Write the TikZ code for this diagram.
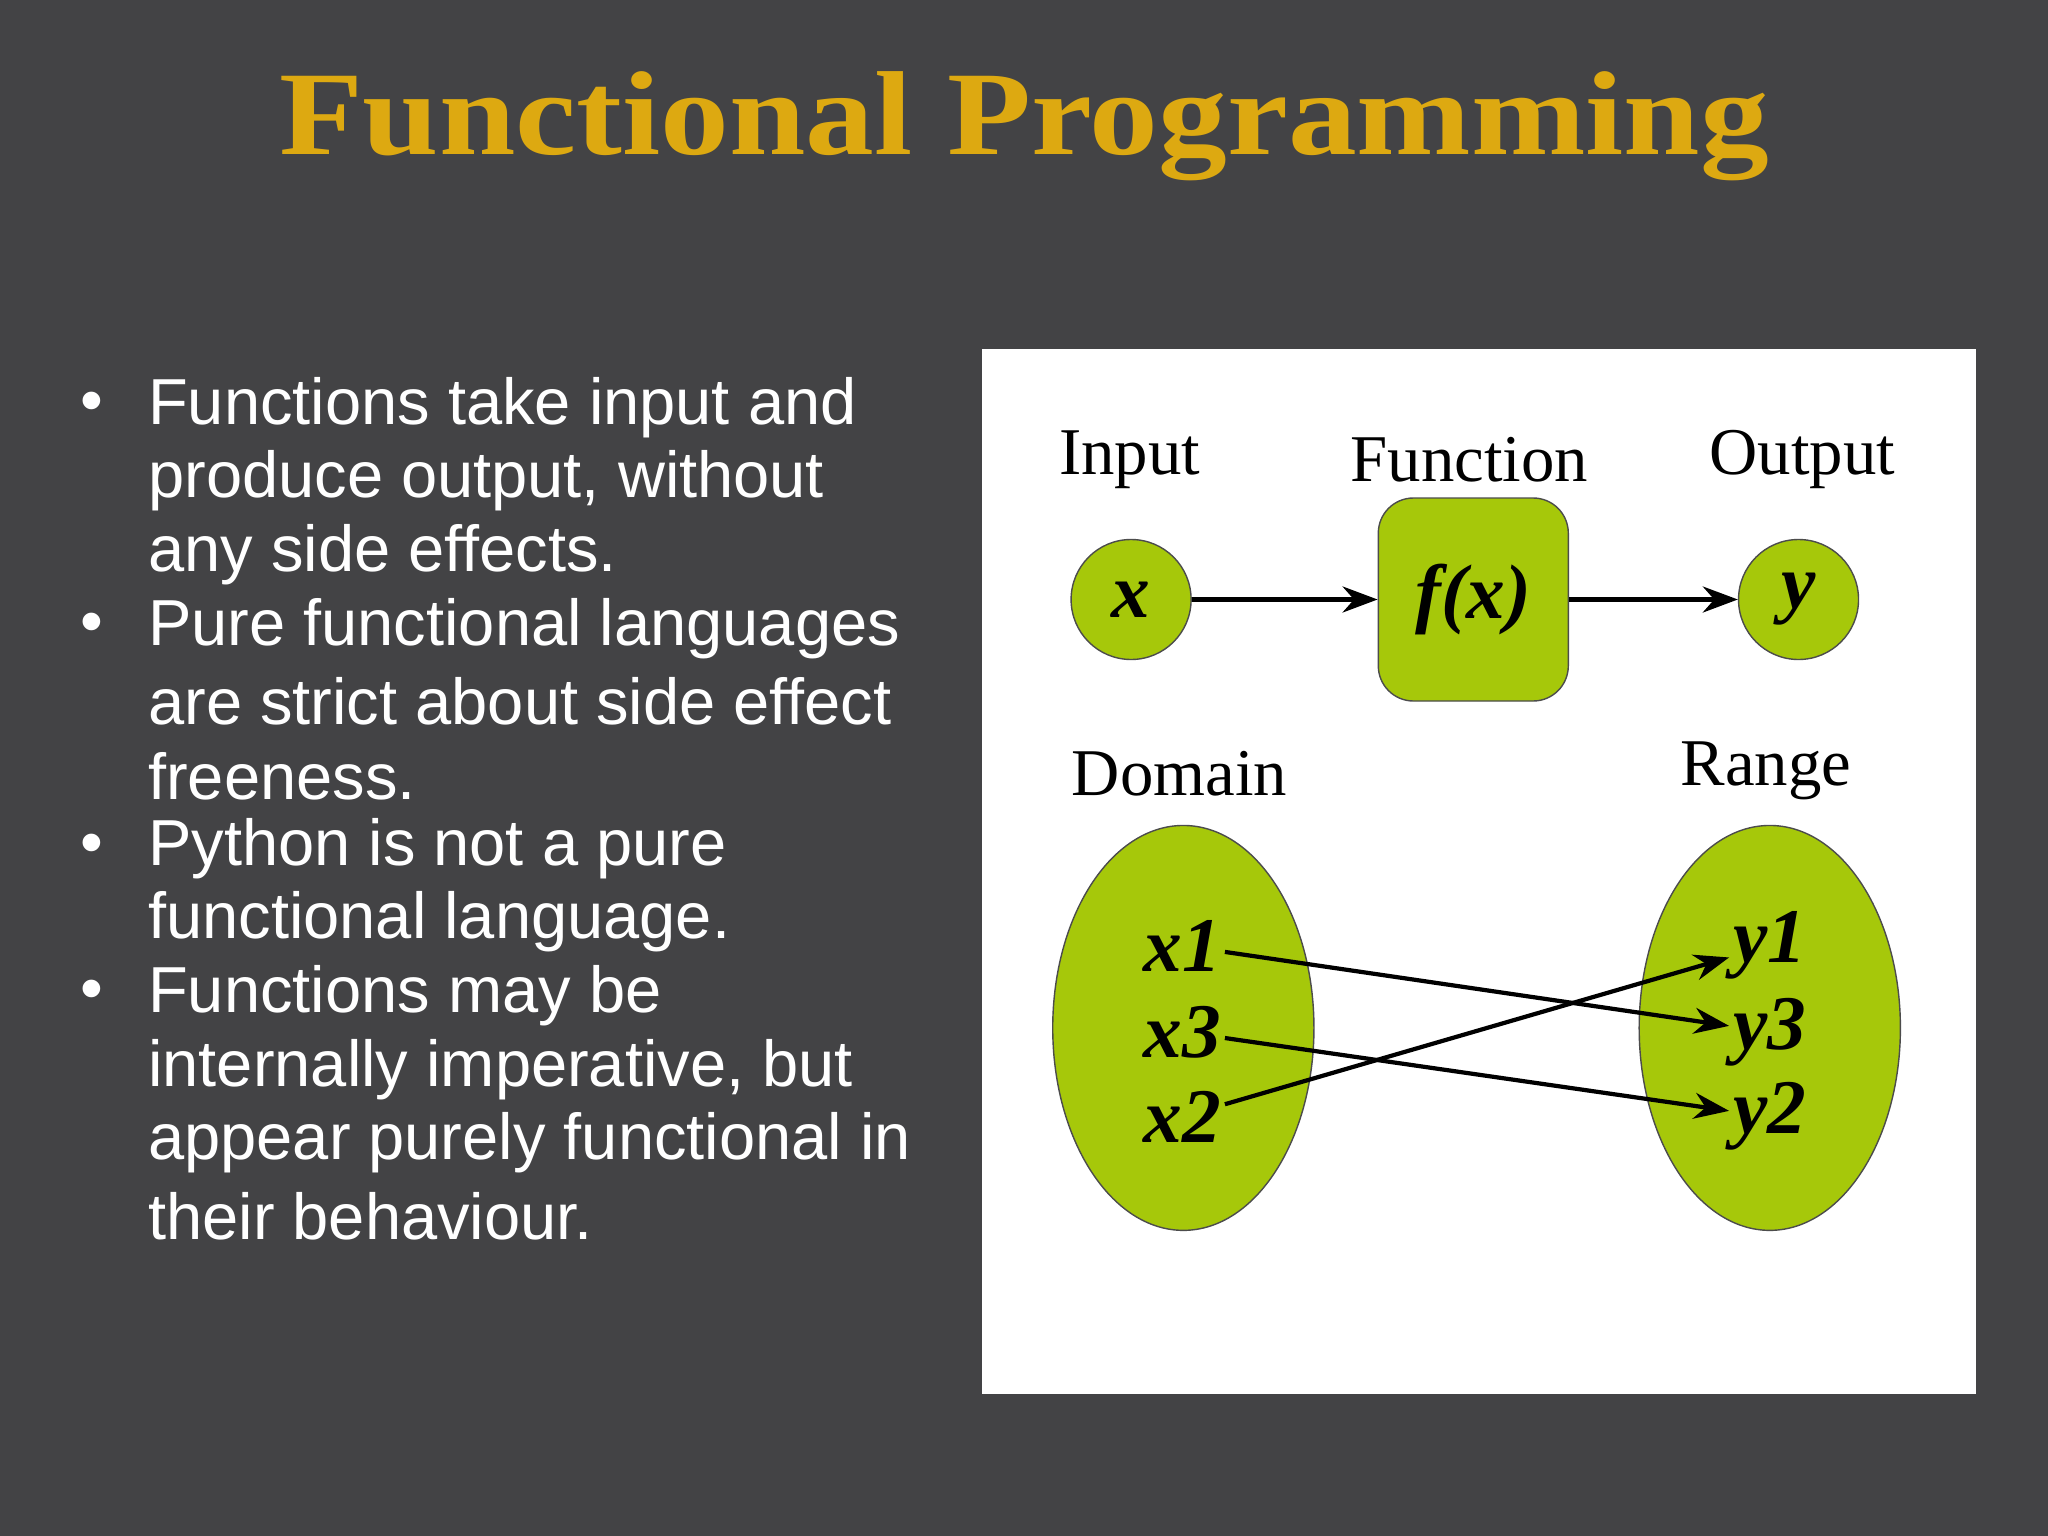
\documentclass[tikz,border=0pt]{standalone}
\usepackage{fontspec}
\setmainfont{Liberation Serif}
\newfontfamily\bulletfont{Liberation Sans}
\usetikzlibrary{arrows.meta}
\definecolor{slidebg}{HTML}{434345}
\definecolor{titlegold}{HTML}{DDA911}
\definecolor{lime}{HTML}{A6C80A}
\begin{document}
\begin{tikzpicture}[x=0.013061cm,y=-0.013061cm,
    bullet/.style={anchor=west, text=white, font=\bulletfont\fontsize{18.5}{21}\selectfont},
    caption/.style={font=\fontsize{19}{22}\selectfont},
    blob/.style={circle, draw=black!70, fill=lime, minimum size=1.2cm, inner sep=0pt},
    elem/.style={font=\bfseries\itshape\fontsize{22}{24}\selectfont, inner sep=1pt},
    link/.style={-{Stealth[length=3.5mm,width=2.6mm]}, line width=1.2pt}]
  % Background
  \fill[slidebg] (0,0) rectangle (1568,1176);
  \useasboundingbox (0,0) rectangle (1568,1176);
  \node[text=titlegold, font=\bfseries\fontsize{34}{38}\selectfont, xscale=1.15] (title) at (784,97) {Functional Programming};

  % Bullets
  \foreach \y/\t in {312/Functions take input and, 368/{produce output, without}, 425/any side effects.,
      481/Pure functional languages, 537/are strict about side effect, 594/freeness.,
      650/Python is not a pure, 706/functional language.,
      762/Functions may be, 819/{internally imperative, but}, 875/appear purely functional in, 931/their behaviour.}
    \node[bullet] at (104,\y) {\t};
  \foreach \y in {312,481,650,762}
    \node[bullet] at (52,\y) {\textbullet};

  % Panel
  \fill[white] (752,267) rectangle (1513,1067);
  \node[caption] (input) at (865,352) {Input};
  \node[caption] (function) at (1125,352) {Function};
  \node[caption] (output) at (1380,352) {Output};
  \node[blob, elem] (x) at (866,459) {x};
  \node[draw=black!70, fill=lime, rounded corners=10pt, minimum width=1.9cm, minimum height=2.03cm, elem] (f) at (1128,459) {f(x)};
  \node[blob, elem] (y) at (1377,459) {y};
  \draw[link] (x) -- (f);
  \draw[link] (f) -- (y);

  \node[caption] (domain) at (903,592) {Domain};
  \node[caption] (range) at (1352,590) {Range};
  \fill[lime, draw=black!70] (906,787) ellipse [x radius=100, y radius=155];
  \fill[lime, draw=black!70] (1355,787) ellipse [x radius=100, y radius=155];
  \node[elem] (x1) at (905,724) {x1};
  \node[elem] (x3) at (905,790) {x3};
  \node[elem] (x2) at (905,855) {x2};
  \node[elem] (y1) at (1355,724) {y1};
  \node[elem] (y3) at (1355,790) {y3};
  \node[elem] (y2) at (1355,855) {y2};
  \draw[link] (x1) -- (y3);
  \draw[link] (x3) -- (y2);
  \draw[link] (x2) -- (y1);
\end{tikzpicture}
\end{document}
